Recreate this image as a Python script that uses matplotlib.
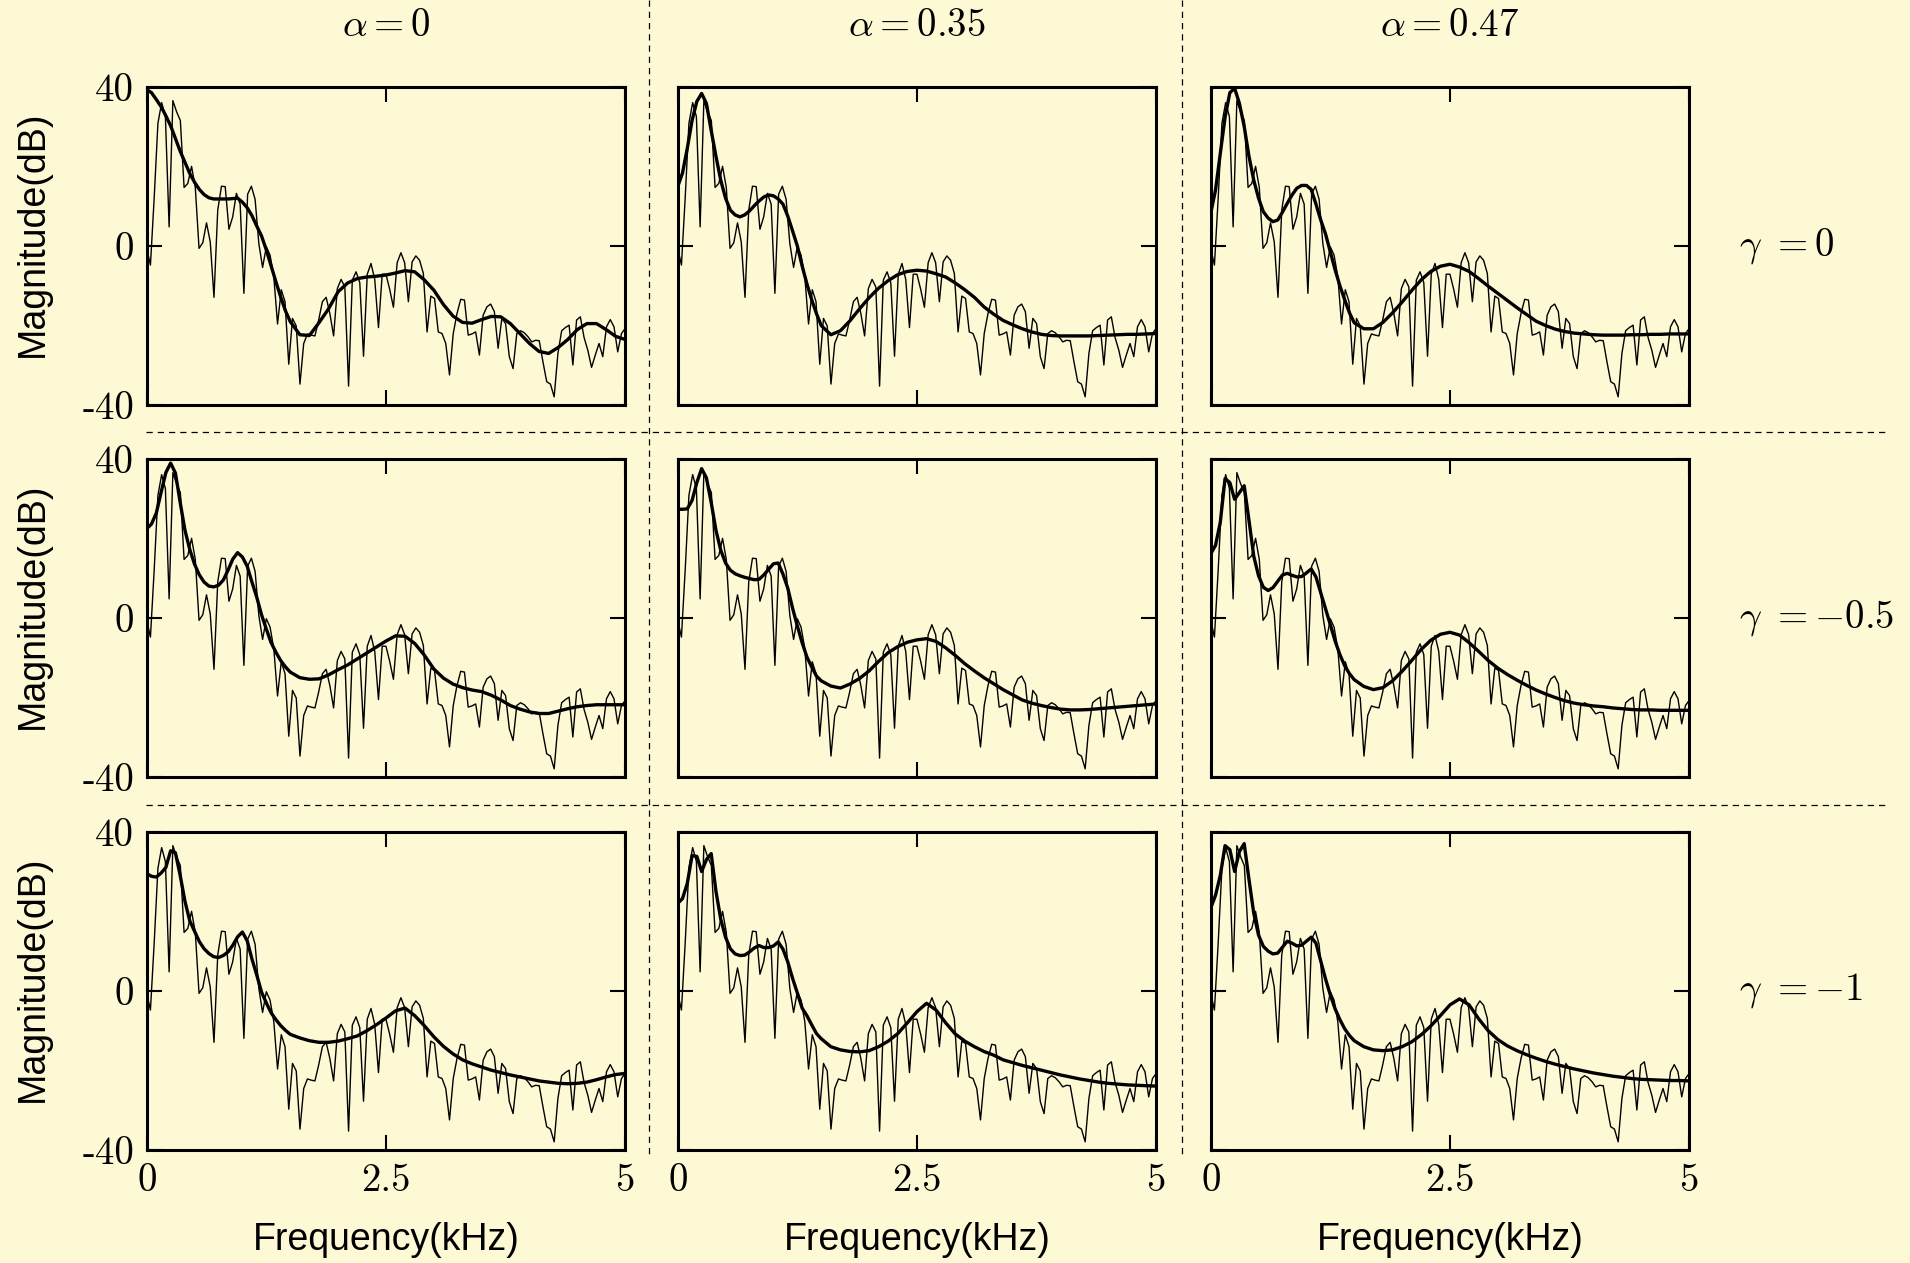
import numpy as np
import matplotlib.pyplot as plt
from matplotlib.lines import Line2D

plt.rcParams['mathtext.fontset'] = 'cm'
plt.rcParams['axes.unicode_minus'] = False

BG = '#fef9d5'

# measured spectrum, 129 bins from 0 to 5 kHz (same in every panel)
freq_raw = np.linspace(0, 5, 129)
spec_raw = [
    -0.6, -4.8, 12.0, 30.8, 36.0, 32.5, 4.8, 36.5, 33.7, 31.5,
    14.7, 15.7, 20.0, 14.7, -0.6, 0.8, 5.8, 1.0, -12.9, 9.0,
    15.0, 14.9, 4.2, 7.3, 13.2, 10.5, -11.9, 13.0, 15.0, 11.7,
    0.6, -5.4, -0.2, -2.3, -7.7, -19.6, -11.0, -14.0, -29.7, -18.2,
    -20.1, -34.7, -24.5, -22.1, -22.4, -22.6, -18.6, -14.0, -12.9, -17.0,
    -22.6, -10.7, -8.4, -10.3, -35.2, -8.6, -6.5, -9.2, -27.7, -7.1,
    -4.4, -8.4, -20.5, -7.1, -7.1, -10.9, -15.4, -4.2, -1.7, -4.2,
    -14.0, -4.0, -2.5, -3.6, -6.9, -21.6, -12.6, -13.2, -21.6, -22.0,
    -24.5, -32.4, -22.0, -17.0, -13.4, -13.6, -22.4, -22.1, -21.6, -27.4,
    -17.4, -15.3, -14.6, -16.5, -25.7, -18.2, -19.5, -27.8, -30.8, -22.0,
    -21.3, -21.8, -22.8, -24.1, -23.7, -23.8, -29.1, -34.1, -34.7, -37.9,
    -27.0, -21.3, -20.5, -19.9, -29.9, -18.6, -17.8, -23.0, -26.2, -30.5,
    -27.4, -24.5, -27.8, -20.3, -18.5, -20.3, -26.6, -22.0, -20.7,
]

# envelope frequencies: 0.05 kHz steps up to 1.45, then 0.1 kHz steps
freq_env = np.concatenate([np.arange(30) * 0.05, 1.5 + np.arange(36) * 0.1])

# envelopes, row = gamma, column = alpha
env_g0_a0 = [
    39.3, 38.5, 36.8, 35.0, 32.7, 30.2, 27.0, 23.8, 21.0, 18.2,
    16.0, 14.2, 12.9, 12.1, 11.8, 11.8, 11.8, 11.8, 11.9, 12.0,
    11.0, 9.6, 7.6, 5.0, 2.5, -1.0, -5.0, -9.0, -12.8, -16.3,
    -19.0, -22.3, -22.5, -19.3, -15.8, -11.5, -9.3, -8.2, -7.8, -7.6,
    -7.3, -6.8, -6.2, -6.5, -8.5, -11.1, -14.7, -17.6, -19.2, -19.4,
    -18.5, -17.7, -17.8, -19.5, -22.0, -24.5, -26.5, -27.0, -25.5, -23.5,
    -21.0, -19.5, -19.5, -21.0, -22.7, -23.5,
]
env_g0_a35 = [
    14.9, 18.3, 24.5, 31.5, 36.3, 38.3, 35.8, 29.0, 22.5, 16.5,
    12.0, 9.0, 7.8, 7.3, 7.8, 8.8, 10.1, 11.3, 12.3, 12.8,
    12.6, 11.8, 10.5, 7.5, 3.8, 0.0, -5.0, -9.5, -13.5, -17.0,
    -20.0, -22.3, -21.3, -18.8, -15.8, -13.0, -10.6, -8.7, -7.2, -6.4,
    -6.1, -6.3, -7.0, -7.8, -9.3, -11.0, -12.9, -15.3, -17.1, -18.7,
    -19.8, -20.8, -21.6, -22.2, -22.5, -22.6, -22.6, -22.6, -22.6, -22.5,
    -22.4, -22.3, -22.2, -22.2, -22.1, -22.0,
]
env_g0_a47 = [
    8.2, 14.0, 23.2, 32.3, 38.5, 39.6, 35.8, 30.0, 22.5, 16.5,
    12.0, 8.6, 7.0, 6.1, 6.5, 8.5, 10.7, 12.8, 14.5, 15.2,
    15.2, 14.2, 10.5, 6.5, 3.0, -1.5, -6.0, -10.0, -13.5, -16.8,
    -19.3, -20.8, -20.8, -19.2, -16.8, -14.1, -11.2, -8.5, -6.4, -5.1,
    -4.6, -5.3, -6.4, -8.2, -10.1, -11.9, -13.7, -15.5, -17.2, -18.9,
    -20.0, -20.9, -21.5, -21.9, -22.1, -22.3, -22.4, -22.4, -22.4, -22.3,
    -22.3, -22.2, -22.2, -22.1, -22.1, -22.1,
]
env_g05_a0 = [
    22.4, 23.6, 26.3, 31.5, 36.5, 38.9, 36.4, 29.0, 22.0, 17.2,
    13.5, 10.8, 9.0, 8.0, 7.8, 8.2, 9.5, 12.0, 14.8, 16.4,
    15.3, 13.0, 9.0, 5.2, 0.8, -2.8, -6.2, -8.6, -10.7, -12.3,
    -13.6, -15.0, -15.4, -15.3, -14.3, -13.0, -11.8, -10.3, -8.8, -7.3,
    -5.8, -4.5, -4.6, -6.4, -9.3, -12.8, -15.1, -16.6, -17.5, -18.1,
    -18.5, -19.4, -20.6, -22.0, -22.9, -23.6, -24.0, -24.0, -23.4, -22.8,
    -22.3, -22.0, -21.8, -21.8, -21.8, -21.8,
]
env_g05_a35 = [
    27.3, 27.3, 27.4, 29.5, 34.0, 37.5, 35.2, 29.0, 22.0, 17.0,
    13.8, 12.0, 11.1, 10.6, 10.2, 9.9, 9.6, 9.7, 10.8, 12.2,
    13.6, 13.8, 11.0, 7.5, 2.5, -2.0, -6.2, -9.8, -12.3, -14.6,
    -15.8, -17.1, -17.6, -16.6, -15.2, -13.3, -10.9, -8.7, -7.2, -6.1,
    -5.5, -5.2, -5.9, -7.5, -9.4, -11.5, -13.3, -15.0, -16.5, -18.0,
    -19.3, -20.6, -21.4, -22.0, -22.5, -22.9, -23.1, -23.1, -23.0, -22.8,
    -22.6, -22.4, -22.2, -22.0, -21.8, -21.6,
]
env_g05_a47 = [
    16.1, 18.2, 24.0, 35.0, 34.0, 29.8, 31.5, 33.2, 24.5, 15.5,
    10.6, 7.7, 6.9, 7.6, 9.2, 10.8, 11.2, 10.7, 10.3, 10.4,
    11.3, 12.3, 10.3, 6.3, 2.3, -1.7, -5.8, -9.2, -12.0, -14.0,
    -15.5, -17.2, -18.0, -17.5, -15.8, -13.4, -10.7, -7.9, -5.6, -4.1,
    -3.6, -4.3, -6.2, -8.4, -10.7, -12.6, -14.2, -15.6, -16.9, -18.1,
    -19.1, -20.0, -20.8, -21.4, -21.8, -22.1, -22.3, -22.6, -22.8, -23.0,
    -23.1, -23.1, -23.2, -23.2, -23.2, -23.2,
]
env_g1_a0 = [
    29.5, 28.8, 28.6, 29.6, 31.0, 35.2, 34.7, 29.0, 22.5, 17.6,
    15.0, 12.4, 10.6, 9.4, 8.6, 8.4, 8.9, 9.8, 11.5, 13.6,
    14.8, 12.6, 8.0, 4.0, -0.3, -3.0, -5.5, -7.2, -8.7, -9.9,
    -10.9, -11.8, -12.5, -12.9, -12.9, -12.6, -12.0, -11.3, -10.0, -8.5,
    -6.8, -5.0, -4.3, -6.2, -8.7, -11.5, -13.9, -15.8, -17.3, -18.3,
    -19.1, -19.9, -20.5, -21.1, -21.6, -22.1, -22.6, -22.9, -23.2, -23.3,
    -23.2, -22.9, -22.3, -21.6, -21.0, -20.7,
]
env_g1_a35 = [
    22.0, 23.2, 27.0, 34.0, 33.8, 30.0, 33.0, 34.5, 25.0, 18.0,
    13.5, 10.6, 9.3, 8.9, 9.0, 9.8, 10.8, 11.4, 10.9, 10.9,
    11.3, 12.3, 10.5, 7.3, 3.2, -0.5, -4.3, -6.2, -8.5, -10.7,
    -12.0, -14.0, -14.8, -15.2, -15.3, -15.0, -14.0, -12.6, -10.7, -8.0,
    -5.2, -3.1, -4.8, -8.0, -10.8, -12.6, -14.0, -15.2, -16.1, -17.3,
    -18.0, -18.7, -19.3, -19.9, -20.5, -21.1, -21.6, -22.1, -22.5, -22.9,
    -23.2, -23.4, -23.6, -23.7, -23.8, -23.9,
]
env_g1_a47 = [
    20.8, 24.0, 29.0, 36.5, 35.5, 30.0, 35.0, 37.0, 28.0, 19.5,
    14.0, 11.2, 10.0, 9.3, 9.5, 11.0, 12.5, 12.0, 11.3, 11.5,
    12.5, 13.5, 12.0, 7.5, 3.0, -1.0, -4.5, -7.2, -9.5, -11.2,
    -12.5, -14.0, -14.8, -15.0, -14.8, -14.0, -12.8, -11.0, -8.8, -6.2,
    -3.5, -2.0, -3.5, -7.0, -10.0, -12.2, -13.8, -15.0, -16.0, -16.9,
    -17.7, -18.4, -19.0, -19.6, -20.1, -20.6, -21.0, -21.4, -21.7, -22.0,
    -22.2, -22.3, -22.4, -22.5, -22.5, -22.6,
]

envelopes = [
    [env_g0_a0, env_g0_a35, env_g0_a47],
    [env_g05_a0, env_g05_a35, env_g05_a47],
    [env_g1_a0, env_g1_a35, env_g1_a47],
]
alpha_labels = [r'$\alpha = 0$', r'$\alpha = 0.35$', r'$\alpha = 0.47$']
gamma_labels = [r'$\gamma\ = 0$', r'$\gamma\ = -0.5$', r'$\gamma\ = -1$']
xticks = [0, 2.5, 5]
xticklabels = ['0', '2.5', '5']
yticks = [-40, 0, 40]
yticklabels = ['-40', '0', '40']

W, H = 1910, 1263
fig = plt.figure(figsize=(W / 100, H / 100), dpi=100, facecolor=BG)

col_left = [146.7, 677.7, 1210.7]
row_top = [86.7, 458.7, 831.7]
ax_w, ax_h = 478.5, 318.5

for r in range(3):
    for c in range(3):
        ax = fig.add_axes([col_left[c] / W, 1 - (row_top[r] + ax_h) / H, ax_w / W, ax_h / H])
        ax.set_facecolor(BG)
        ax.plot(freq_raw, spec_raw, color='black', lw=1.0)
        ax.plot(freq_env, envelopes[r][c], color='black', lw=2.4)
        ax.set_xlim(0, 5)
        ax.set_ylim(-40, 40)
        ax.set_xticks(xticks)
        ax.set_yticks(yticks)
        ax.set_xticklabels(xticklabels, fontfamily='cmr10', fontsize=28)
        ax.set_yticklabels(yticklabels, fontfamily='cmr10', fontsize=28)
        ax.tick_params(direction='in', length=11, width=1.5, top=True, right=True,
                       pad=9, labelbottom=(r == 2), labelleft=(c == 0))
        for sp in ax.spines.values():
            sp.set_linewidth(2.2)

for c in range(3):
    xc = (col_left[c] + ax_w / 2) / W
    fig.text(xc, 1 - 25 / H, alpha_labels[c], fontsize=28, ha='center', va='center')
    fig.text(xc, 1 - 1240 / H, 'Frequency(kHz)', fontsize=27, family='Liberation Sans',
             ha='center', va='center')

for r in range(3):
    yc = 1 - (row_top[r] + ax_h / 2) / H
    fig.text(1739 / W, yc, gamma_labels[r], fontsize=28, ha='left', va='center')
    fig.text(33 / W, yc + 12 / H, 'Magnitude(dB)', fontsize=27, family='Liberation Sans',
             rotation=90, ha='center', va='center')

# dashed separators
for x in [649, 1182]:
    fig.add_artist(Line2D([x / W, x / W], [1, 1 - 1157 / H], transform=fig.transFigure,
                          color='black', lw=0.9, ls=(0, (5, 4))))
for y in [432, 805]:
    fig.add_artist(Line2D([146 / W, 1886 / W], [1 - y / H, 1 - y / H], transform=fig.transFigure,
                          color='black', lw=0.9, ls=(0, (5, 4))))

fig.savefig('out.png', dpi=100, facecolor=BG)
